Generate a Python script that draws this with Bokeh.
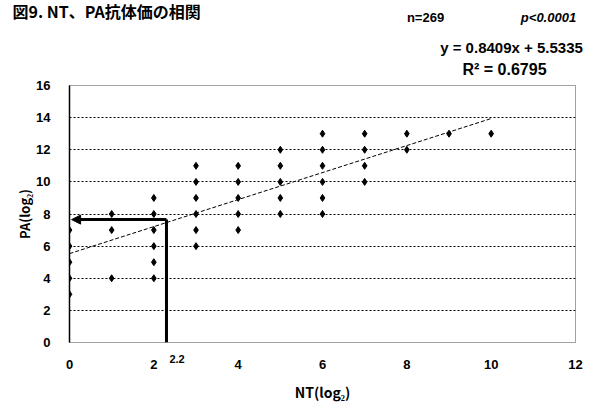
from bokeh.plotting import figure
from bokeh.models import Arrow, NormalHead, FixedTicker, LinearAxis, Range1d
from bokeh.layouts import column
from bokeh.core.properties import value
from bokeh.embed import file_html
from bokeh.resources import INLINE

# data
nt_x = [0,0,0,0,0, 1,1,1, 2,2,2,2,2,2, 3,3,3,3,3,3, 4,4,4,4,4, 5,5,5,5,5,
        6,6,6,6,6,6, 7,7,7,7, 8,8, 9, 10]
pa_y = [3,4,5,6,7, 4,7,8, 4,5,6,7,8,9, 6,7,8,9,10,11, 7,8,9,10,11, 8,9,10,11,12,
        8,9,10,11,12,13, 10,11,12,13, 12,13, 13, 13]
slope = 0.8409
intercept = 5.5335
fit_x = [0, 10]
arrow_x = 2.3
arrow_y = 7.65
x_ticks = [0, 2, 4, 6, 8, 10, 12]
y_ticks = [0, 2, 4, 6, 8, 10, 12, 14, 16]
cut_label_pos = 2.55
cut_label = "2.2"
title_text = "図9.  NT、PA抗体価の相関"
n_text = "n=269"
p_text = "p<0.0001"
eq_text = "y = 0.8409x + 5.5335"
r2_text = "R² = 0.6795"

CJK = "Noto Sans CJK JP"
LAT = "Liberation Sans"
W = 589
HEAD_H = 79

# ---------- header with the texts above the chart ----------
h = figure(width=W, height=HEAD_H, x_range=Range1d(0, W), y_range=Range1d(HEAD_H, 0),
           output_backend="svg", toolbar_location=None,
           min_border=0, min_border_left=0, min_border_right=0,
           min_border_top=0, min_border_bottom=0)
h.frame_align = False
h.axis.visible = False
h.grid.visible = False
h.outline_line_color = None
h.background_fill_color = "white"
h.border_fill_color = "white"

def htext(txt, x, y, size, font=LAT, style="bold", align="left"):
    h.text(x=[x], y=[y], text=[txt], text_font=value(font), text_font_style=style,
           text_font_size=size, text_align=align, text_baseline="middle",
           text_color="black")

htext(title_text, 12, 10, "16px", font=CJK)
htext(n_text, 425, 17, "13px", align="center")
htext(p_text, 548, 17, "13px", style="bold italic", align="center")
htext(eq_text, 511, 47, "15px", align="center")
htext(r2_text, 504, 69, "16px", align="center")

# ---------- main chart ----------
p = figure(width=W, height=407 - HEAD_H, x_range=(0, 12), y_range=(0, 16),
           output_backend="svg", toolbar_location=None, x_axis_location=None,
           min_border_left=69, min_border_right=14, min_border_top=6, min_border_bottom=65)
p.frame_align = False
p.background_fill_color = "white"
p.border_fill_color = "white"
p.outline_line_color = "#444444"
p.outline_line_dash = "1 1"
p.outline_line_width = 1

p.xgrid.visible = False
p.ygrid.grid_line_color = "black"
p.ygrid.grid_line_dash = "2 2"
p.ygrid.grid_line_width = 1
p.ygrid.ticker = FixedTicker(ticks=y_ticks)

# axis next to the frame: the "2.2" label
ax1 = LinearAxis(ticker=FixedTicker(ticks=[cut_label_pos]),
                 major_label_overrides={cut_label_pos: cut_label},
                 axis_line_color=None, major_tick_in=0, major_tick_out=0,
                 major_tick_line_color=None, minor_tick_line_color=None,
                 major_label_text_font=LAT, major_label_text_font_style="bold",
                 major_label_text_font_size="11px", major_label_text_color="black",
                 major_label_standoff=12)
# main x axis
ax2 = LinearAxis(ticker=FixedTicker(ticks=x_ticks), axis_label="NT(log₂)",
                 axis_line_color=None, major_tick_line_color=None, major_tick_out=0,
                 major_tick_in=0, minor_tick_line_color=None,
                 major_label_text_font=LAT, major_label_text_font_style="bold",
                 major_label_text_font_size="13px", major_label_text_color="black",
                 major_label_standoff=-6,
                 axis_label_text_font=CJK, axis_label_text_font_style="bold",
                 axis_label_text_font_size="14px", axis_label_text_color="black",
                 axis_label_standoff=10)
p.add_layout(ax1, "below")
p.add_layout(ax2, "below")

ya = p.yaxis[0]
ya.ticker = FixedTicker(ticks=y_ticks)
ya.axis_line_color = "black"
ya.axis_line_width = 1.5
ya.major_tick_line_color = None
ya.major_tick_out = 0
ya.minor_tick_line_color = None
ya.major_label_text_font = LAT
ya.major_label_text_font_style = "bold"
ya.major_label_text_font_size = "13px"
ya.major_label_text_color = "black"
ya.major_label_standoff = 19
ya.axis_label = "PA(log₂)"
ya.axis_label_text_font = CJK
ya.axis_label_text_font_style = "bold"
ya.axis_label_text_font_size = "13px"
ya.axis_label_text_color = "black"
ya.axis_label_standoff = -1

# regression line
fit_y = [slope * v + intercept for v in fit_x]
p.line(fit_x, fit_y, line_color="black", line_width=1, line_dash="4 2")

# points
p.scatter(nt_x, pa_y, marker="diamond", size=7, color="black")

# arrow
p.line([arrow_x, arrow_x], [0, arrow_y], line_color="black", line_width=3)
p.add_layout(Arrow(end=NormalHead(size=9, fill_color="black", line_color="black"),
                   x_start=arrow_x, y_start=arrow_y, x_end=0.05, y_end=arrow_y,
                   line_color="black", line_width=3))

layout = column(h, p, spacing=0)
open("out.html", "w").write(file_html(layout, INLINE))
